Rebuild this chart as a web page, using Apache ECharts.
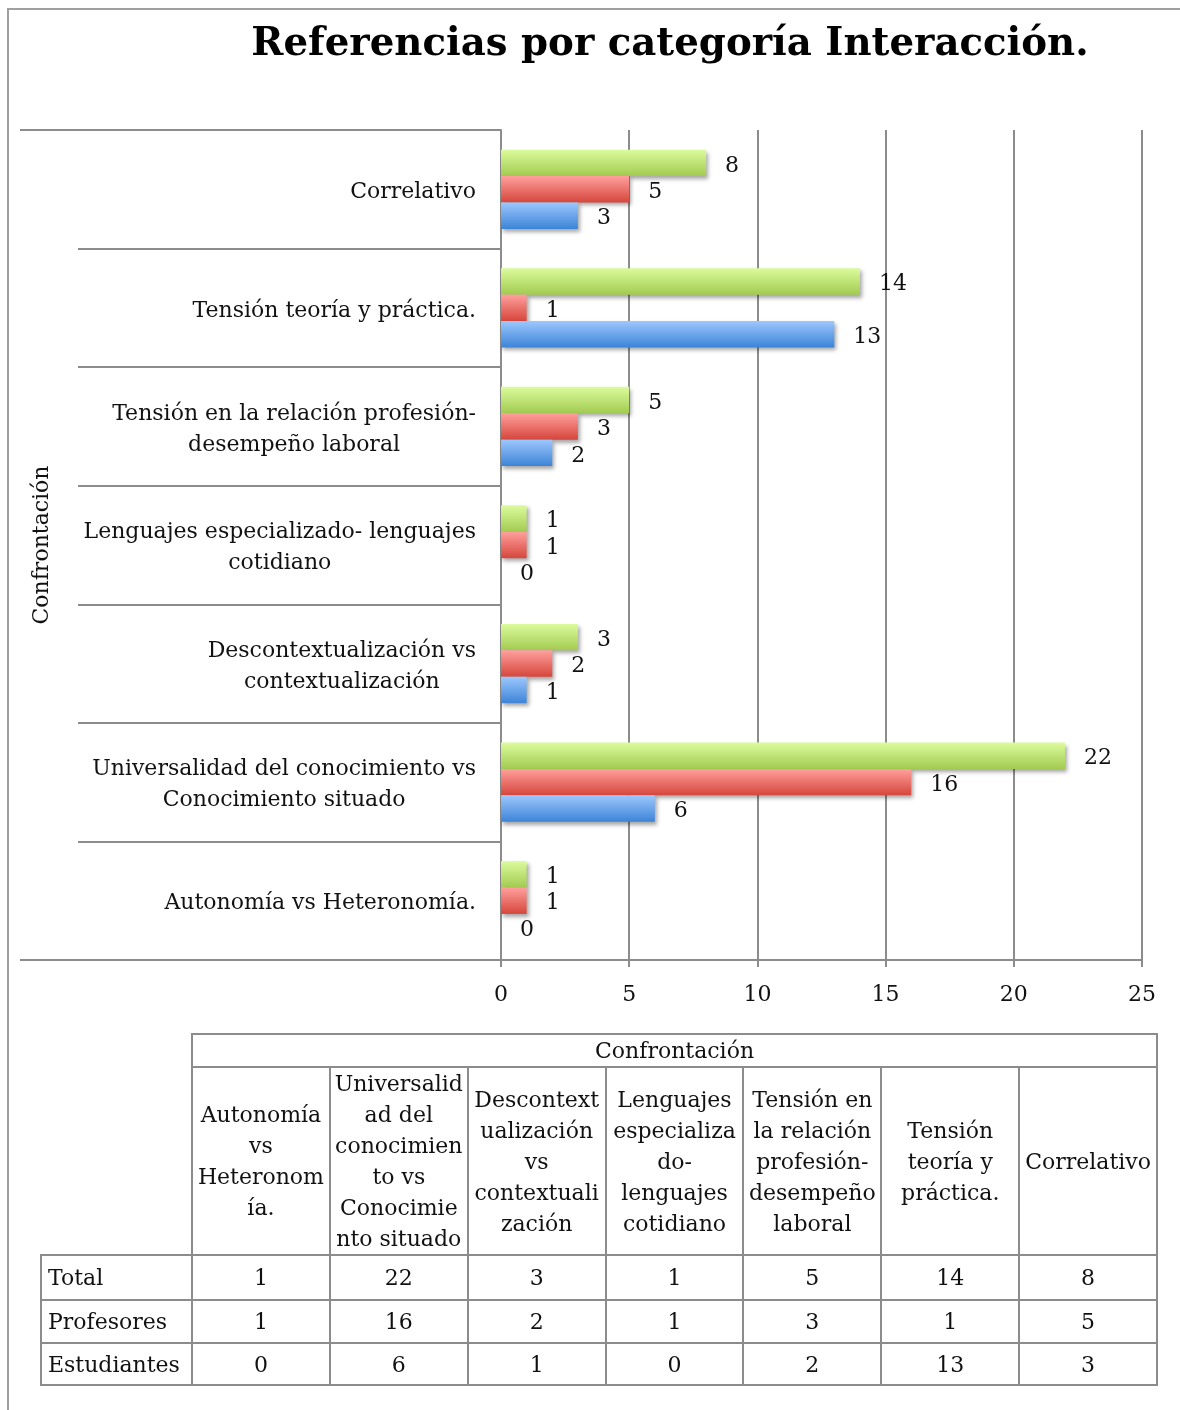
<!DOCTYPE html>
<html>
<head>
<meta charset="utf-8">
<script src="https://cdn.jsdelivr.net/npm/echarts@6/dist/echarts.min.js"></script>
<style>
	html, body { margin: 0; padding: 0; background: #fff; }
	#wrap { position: relative; width: 1180px; height: 1410px; overflow: hidden; }
	#chart { position: absolute; left: 0; top: 0; width: 1180px; height: 1410px; }
	#tabla {
		position: absolute; left: 40px; top: 1033px; width: 1116px;
		border-collapse: collapse; table-layout: fixed;
		font-family: "DejaVu Serif"; font-size: 22px; color: #111;
	}
	#tabla td {
		border: 2px solid #8c8c8c; padding: 0 3px; text-align: center;
		vertical-align: middle; overflow-wrap: anywhere; line-height: 31px;
	}
	#tabla td.vacio { border: none; }
	#tabla td.fila { text-align: left; padding-left: 6px; }
</style>
</head>
<body>
<div id="wrap">
	<div id="chart"></div>
	<table id="tabla"></table>
</div>
<script>
const titulo = 'Referencias por categoría Interacción.';
const grupo = 'Confrontación';
// de abajo hacia arriba en el gráfico (mismo orden que la tabla)
const categorias = [
	'Autonomía vs Heteronomía.',
	'Universalidad del conocimiento vs Conocimiento situado',
	'Descontextualización vs contextualización',
	'Lenguajes especializado- lenguajes cotidiano',
	'Tensión en la relación profesión-desempeño laboral',
	'Tensión teoría y práctica.',
	'Correlativo'
];
const total = [1, 22, 3, 1, 5, 14, 8];
const profesores = [1, 16, 2, 1, 3, 1, 5];
const estudiantes = [0, 6, 1, 0, 2, 13, 3];
const filas = ['Total', 'Profesores', 'Estudiantes'];

const fuente = '"DejaVu Serif"';
const gris = '#8c8c8c';

// partir etiquetas largas en varias líneas
const ctx = document.createElement('canvas').getContext('2d');
ctx.font = '22px ' + fuente;
function partir(texto, maxW) {
	let trozos = texto.match(/[^\s-]+-?\s*/g);
	let lineas = [];
	let actual = '';
	trozos.forEach(function(t) {
		let prueba = actual + t;
		if (actual && ctx.measureText(prueba.trim()).width > maxW) {
			lineas.push(actual.trim());
			actual = t;
		} else {
			actual = prueba;
		}
	});
	lineas.push(actual.trim());
	return lineas;
}

function serie(nombre, datos, c1, c2) {
	return {
		name: nombre,
		type: 'bar',
		data: datos,
		barWidth: 26.4,
		barGap: '0%',
		itemStyle: {
			color: new echarts.graphic.LinearGradient(0, 0, 0, 1, [
				{ offset: 0, color: c1 },
				{ offset: 1, color: c2 }
			]),
			shadowColor: 'rgba(0,0,0,0.35)',
			shadowBlur: 4,
			shadowOffsetX: 2,
			shadowOffsetY: 3
		},
		label: {
			show: true,
			position: 'right',
			distance: 19,
			offset: [0, 3],
			fontFamily: fuente,
			fontSize: 22,
			color: '#111'
		}
	};
}

let myChart = echarts.init(document.getElementById('chart'));
let option = {
	animation: false,
	textStyle: { fontFamily: fuente },
	graphic: [
		{
			type: 'rect', silent: true, z: -1,
			shape: { x: 8, y: 9, width: 1300, height: 1500 },
			style: { fill: 'none', stroke: '#a0a0a0', lineWidth: 2 }
		},
		{
			type: 'text', x: 670, y: 45,
			style: {
				text: titulo, align: 'center', verticalAlign: 'middle',
				fontFamily: fuente, fontSize: 38.7, fontWeight: 'bold', fill: '#000'
			}
		}
	],
	grid: [
		{ left: 501, top: 130, width: 641, height: 830 },
		{ left: 501, top: 130, width: 641, height: 830 }
	],
	xAxis: [
		{
			gridIndex: 0,
			type: 'value',
			min: 0,
			max: 25,
			interval: 5,
			axisLine: { show: true, lineStyle: { color: gris, width: 2 } },
			axisTick: { show: true, length: 7, lineStyle: { color: gris, width: 2 } },
			splitLine: { show: true, lineStyle: { color: gris, width: 2 } },
			axisLabel: { margin: 24, fontSize: 22, color: '#111', fontFamily: fuente }
		},
		{ gridIndex: 1, type: 'value', show: false }
	],
	yAxis: [
		{
			gridIndex: 0,
			type: 'category',
			data: categorias,
			axisLine: { show: true, lineStyle: { color: gris, width: 2 } },
			axisTick: { show: true, length: 423, lineStyle: { color: gris, width: 2 } },
			axisLabel: {
				interval: 0,
				margin: 25,
				align: 'right',
				padding: [6, 0, 0, 0],
				formatter: function(v) {
					return partir(v, 410).map(function(l) { return '{c|' + l + '}'; }).join('\n');
				},
				rich: {
					c: { align: 'center', fontSize: 22, lineHeight: 31, color: '#111', fontFamily: fuente }
				}
			}
		},
		{
			gridIndex: 1,
			type: 'category',
			data: [grupo],
			axisLine: { show: false },
			axisTick: { show: true, length: 481, lineStyle: { color: gris, width: 2 } },
			axisLabel: { show: false },
			name: grupo,
			nameLocation: 'middle',
			nameRotate: 90,
			nameGap: 448,
			nameTextStyle: { fontSize: 22, color: '#111', fontFamily: fuente }
		}
	],
	series: [
		serie('Total', total, '#dcfb9d', '#a2cb50'),
		serie('Profesores', profesores, '#ffa09d', '#d6463c'),
		serie('Estudiantes', estudiantes, '#9dc7fd', '#3c84d7')
	]
};
myChart.setOption(option);

// tabla de datos
const tabla = document.getElementById('tabla');
const altos = [29, 185, 45, 43, 42];
let html = '<colgroup><col style="width:151px">';
categorias.forEach(function() { html += '<col style="width:137.86px">'; });
html += '</colgroup>';
html += '<tr style="height:' + altos[0] + 'px"><td class="vacio" rowspan="2"></td><td colspan="7">' + grupo + '</td></tr>';
html += '<tr style="height:' + altos[1] + 'px">';
categorias.forEach(function(c) { html += '<td>' + c + '</td>'; });
html += '</tr>';
[total, profesores, estudiantes].forEach(function(vals, i) {
	html += '<tr style="height:' + altos[i + 2] + 'px"><td class="fila">' + filas[i] + '</td>';
	vals.forEach(function(v) { html += '<td>' + v + '</td>'; });
	html += '</tr>';
});
tabla.innerHTML = html;
</script>
</body>
</html>
